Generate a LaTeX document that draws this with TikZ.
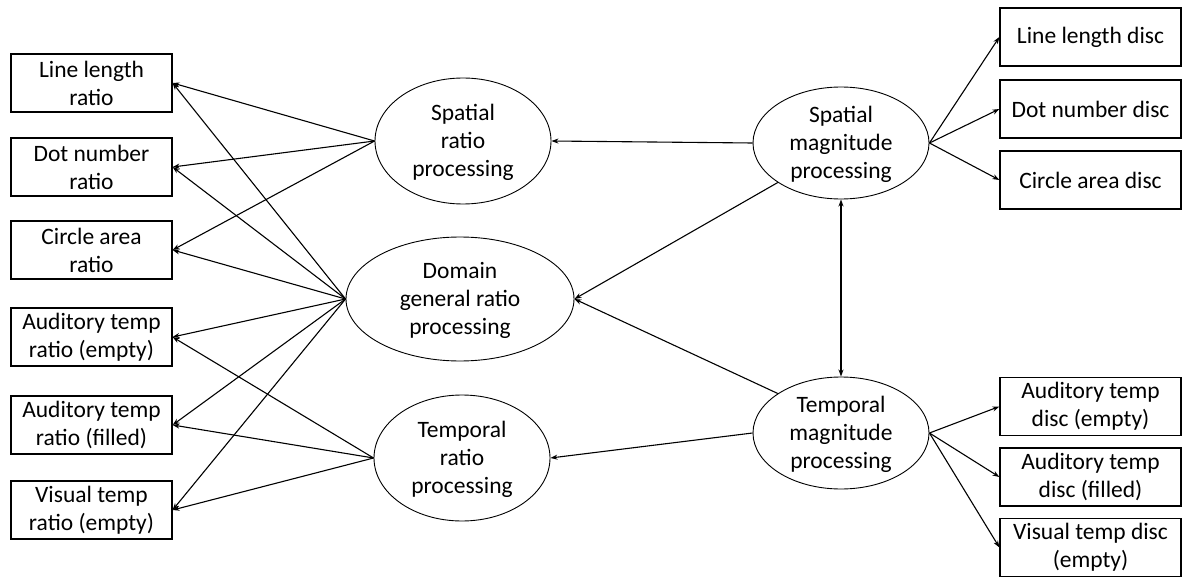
\documentclass[tikz,border=0pt]{standalone}
\usepackage{fontspec}
\setmainfont{Carlito}
\usetikzlibrary{arrows.meta,shapes.geometric}

\tikzset{
  box/.style={draw, line width=1.2pt, rectangle, minimum height=58pt,
    inner sep=0pt, align=center, font=\fontsize{23.5}{28}\selectfont},
  lbox/.style={box, minimum width=161pt},
  rbox/.style={box, minimum width=181pt},
  proc/.style={draw, line width=0.9pt, ellipse, inner sep=0pt},
  ptext/.style={align=center, font=\fontsize{23.5}{28}\selectfont, yshift=-1.5pt},
  link/.style={line width=1.1pt, -{Stealth[length=7pt,width=5pt]}},
  bilink/.style={line width=1.1pt, {Stealth[length=7pt,width=5pt]}-{Stealth[length=7pt,width=5pt]}}
}

\begin{document}
\begin{tikzpicture}[x=1pt,y=-1pt]
\useasboundingbox (0,0) rectangle (1191,580);

% ratio tasks (left column)
\node[lbox] (llr) at (91.5,83)  {Line length\\ratio};
\node[lbox] (dnr) at (91.5,167) {Dot number\\ratio};
\node[lbox] (car) at (91.5,250) {Circle area\\ratio};
\node[lbox] (ate) at (91.5,337) {Auditory temp\\ratio (empty)};
\node[lbox] (atf) at (91.5,425) {Auditory temp\\ratio (filled)};
\node[lbox] (vte) at (91.5,510) {Visual temp\\ratio (empty)};

% discrimination tasks (right column)
\node[rbox] (lld) at (1090.5,37)  {Line length disc};
\node[rbox] (dnd) at (1090.5,109) {Dot number disc};
\node[rbox] (cad) at (1090.5,180) {Circle area disc};
\node[rbox] (ade) at (1090.5,406.5) {Auditory temp\\disc (empty)};
\node[rbox] (adf) at (1090.5,477) {Auditory temp\\disc (filled)};
\node[rbox] (vde) at (1090.5,547.5) {Visual temp disc\\(empty)};

% latent factors
\node[proc, minimum width=176pt, minimum height=126pt,
  label={[ptext]center:Spatial\\ratio\\processing}] (sr) at (463,141) {};
\node[proc, minimum width=228pt, minimum height=124pt,
  label={[ptext]center:Domain\\general ratio\\processing}] (dg) at (460,299) {};
\node[proc, minimum width=176pt, minimum height=126pt,
  label={[ptext]center:Temporal\\ratio\\processing}] (tr) at (462,458) {};
\node[proc, minimum width=176pt, minimum height=112pt,
  label={[ptext]center:Spatial\\magnitude\\processing}] (sm) at (841,143) {};
\node[proc, minimum width=176pt, minimum height=112pt,
  label={[ptext]center:Temporal\\magnitude\\processing}] (tm) at (841,433) {};

% loadings of the ratio factors
\foreach \t in {llr,dnr,car} \draw[link] (sr.west) -- (\t.east);
\foreach \t in {llr,dnr,car,ate,atf,vte} \draw[link] (dg.west) -- (\t.east);
\foreach \t in {ate,atf,vte} \draw[link] (tr.west) -- (\t.east);

% loadings of the magnitude factors
\foreach \t in {lld,dnd,cad} \draw[link] (sm.east) -- (\t.west);
\foreach \t in {ade,adf,vde} \draw[link] (tm.east) -- (\t.west);

% paths between factors
\draw[link] (sm.west) -- (sr.east);
\draw[link] (sm.212) -- (dg.east);
\draw[link] (tm.148) -- (dg.east);
\draw[link] (tm.west) -- (tr.east);
\draw[bilink] (sm.south) -- (tm.north);
\end{tikzpicture}
\end{document}
